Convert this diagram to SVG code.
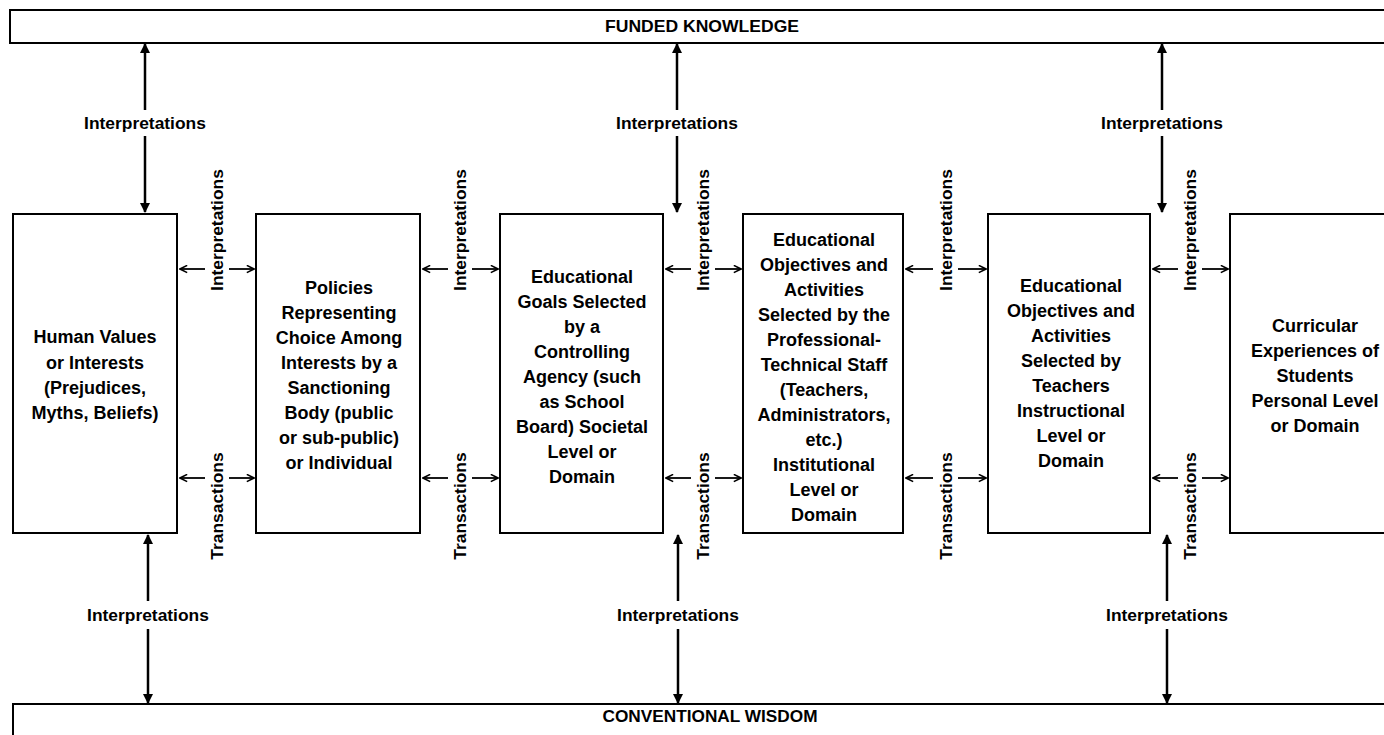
<svg xmlns="http://www.w3.org/2000/svg" width="1384" height="735" viewBox="0 0 1384 735">
<defs>
<marker id="fh" viewBox="0 0 10 10" refX="9" refY="5" markerWidth="10" markerHeight="10" markerUnits="userSpaceOnUse" orient="auto-start-reverse">
<path d="M0,0 L10,5 L0,10 z" fill="#000"/>
</marker>
<marker id="oh" viewBox="0 0 10 10" refX="9" refY="5" markerWidth="9" markerHeight="9" markerUnits="userSpaceOnUse" orient="auto-start-reverse">
<path d="M1,1 L9,5 L1,9" fill="none" stroke="#000" stroke-width="1.8"/>
</marker>
</defs>
<style>
.box{fill:#fff;stroke:#000;stroke-width:2}
.nt{font-family:"Liberation Sans",Arial,sans-serif;font-weight:bold;font-size:18px;text-anchor:middle;fill:#000}
.lb{font-family:"Liberation Sans",Arial,sans-serif;font-weight:bold;font-size:17.4px;text-anchor:middle;fill:#000}
.ti{font-family:"Liberation Sans",Arial,sans-serif;font-weight:bold;font-size:16.5px;text-anchor:middle;fill:#000}
.va{stroke:#000;stroke-width:2.5;fill:none;marker-end:url(#fh)}
.ha{stroke:#000;stroke-width:1.8;fill:none;marker-end:url(#oh)}
</style>
<rect width="1384" height="735" fill="#fff"/>

<g id="funded-knowledge">
<rect class="box" x="10" y="10" width="1400" height="33"/>
<text class="ti" x="702" y="32" textLength="194" lengthAdjust="spacingAndGlyphs">FUNDED KNOWLEDGE</text>
</g>
<g id="conventional-wisdom">
<rect class="box" x="13" y="704" width="1400" height="50"/>
<text class="ti" x="710" y="722" textLength="215" lengthAdjust="spacingAndGlyphs">CONVENTIONAL WISDOM</text>
</g>

<g id="n1">
<rect class="box" x="13" y="214" width="164" height="319"/>
<text class="nt"><tspan x="95" y="343">Human Values</tspan><tspan x="95" y="368.5">or Interests</tspan><tspan x="95" y="394">(Prejudices,</tspan><tspan x="95" y="419">Myths, Beliefs)</tspan></text>
</g>
<g id="n2">
<rect class="box" x="256" y="214" width="164" height="319"/>
<text class="nt"><tspan x="339" y="294">Policies</tspan><tspan x="339" y="319">Representing</tspan><tspan x="339" y="344">Choice Among</tspan><tspan x="339" y="369">Interests by a</tspan><tspan x="339" y="394">Sanctioning</tspan><tspan x="339" y="419">Body (public</tspan><tspan x="339" y="444">or sub-public)</tspan><tspan x="339" y="469">or Individual</tspan></text>
</g>
<g id="n3">
<rect class="box" x="500" y="214" width="163" height="319"/>
<text class="nt"><tspan x="582" y="283">Educational</tspan><tspan x="582" y="308">Goals Selected</tspan><tspan x="582" y="333">by a</tspan><tspan x="582" y="358">Controlling</tspan><tspan x="582" y="383">Agency (such</tspan><tspan x="582" y="408">as School</tspan><tspan x="582" y="433">Board) Societal</tspan><tspan x="582" y="458">Level or</tspan><tspan x="582" y="483">Domain</tspan></text>
</g>
<g id="n4">
<rect class="box" x="743" y="214" width="160" height="319"/>
<text class="nt"><tspan x="824" y="246">Educational</tspan><tspan x="824" y="271">Objectives and</tspan><tspan x="824" y="296">Activities</tspan><tspan x="824" y="321">Selected by the</tspan><tspan x="824" y="346">Professional-</tspan><tspan x="824" y="371">Technical Staff</tspan><tspan x="824" y="396">(Teachers,</tspan><tspan x="824" y="421">Administrators,</tspan><tspan x="824" y="446">etc.)</tspan><tspan x="824" y="471">Institutional</tspan><tspan x="824" y="496">Level or</tspan><tspan x="824" y="521">Domain</tspan></text>
</g>
<g id="n5">
<rect class="box" x="988" y="214" width="162" height="319"/>
<text class="nt"><tspan x="1071" y="292">Educational</tspan><tspan x="1071" y="317">Objectives and</tspan><tspan x="1071" y="342">Activities</tspan><tspan x="1071" y="367">Selected by</tspan><tspan x="1071" y="392">Teachers</tspan><tspan x="1071" y="417">Instructional</tspan><tspan x="1071" y="442">Level or</tspan><tspan x="1071" y="467">Domain</tspan></text>
</g>
<g id="n6">
<rect class="box" x="1230" y="214" width="180" height="319"/>
<text class="nt"><tspan x="1315" y="332">Curricular</tspan><tspan x="1315" y="357">Experiences of</tspan><tspan x="1315" y="382">Students</tspan><tspan x="1315" y="407">Personal Level</tspan><tspan x="1315" y="432">or Domain</tspan></text>
</g>

<g id="connectors">
<line class="va" x1="145" y1="110" x2="145" y2="44"/>
<line class="va" x1="145" y1="136" x2="145" y2="212"/>
<text class="lb" x="145" y="129">Interpretations</text>
<line class="va" x1="677" y1="110" x2="677" y2="44"/>
<line class="va" x1="677" y1="136" x2="677" y2="212"/>
<text class="lb" x="677" y="129">Interpretations</text>
<line class="va" x1="1162" y1="110" x2="1162" y2="44"/>
<line class="va" x1="1162" y1="136" x2="1162" y2="212"/>
<text class="lb" x="1162" y="129">Interpretations</text>
<line class="va" x1="148" y1="601" x2="148" y2="535"/>
<line class="va" x1="148" y1="629" x2="148" y2="703"/>
<text class="lb" x="148" y="621">Interpretations</text>
<line class="va" x1="678" y1="601" x2="678" y2="535"/>
<line class="va" x1="678" y1="629" x2="678" y2="703"/>
<text class="lb" x="678" y="621">Interpretations</text>
<line class="va" x1="1167" y1="601" x2="1167" y2="535"/>
<line class="va" x1="1167" y1="629" x2="1167" y2="703"/>
<text class="lb" x="1167" y="621">Interpretations</text>

<line class="ha" x1="205" y1="269" x2="180" y2="269"/>
<line class="ha" x1="229" y1="269" x2="254" y2="269"/>
<line class="ha" x1="205" y1="478" x2="180" y2="478"/>
<line class="ha" x1="229" y1="478" x2="254" y2="478"/>
<text class="lb" x="223" y="230" transform="rotate(-90 223 230)">Interpretations</text>
<text class="lb" x="223" y="506" transform="rotate(-90 223 506)">Transactions</text>

<line class="ha" x1="448" y1="269" x2="423" y2="269"/>
<line class="ha" x1="472" y1="269" x2="498" y2="269"/>
<line class="ha" x1="448" y1="478" x2="423" y2="478"/>
<line class="ha" x1="472" y1="478" x2="498" y2="478"/>
<text class="lb" x="466" y="230" transform="rotate(-90 466 230)">Interpretations</text>
<text class="lb" x="466" y="506" transform="rotate(-90 466 506)">Transactions</text>

<line class="ha" x1="691" y1="269" x2="666" y2="269"/>
<line class="ha" x1="715" y1="269" x2="741" y2="269"/>
<line class="ha" x1="691" y1="478" x2="666" y2="478"/>
<line class="ha" x1="715" y1="478" x2="741" y2="478"/>
<text class="lb" x="709" y="230" transform="rotate(-90 709 230)">Interpretations</text>
<text class="lb" x="709" y="506" transform="rotate(-90 709 506)">Transactions</text>

<line class="ha" x1="933" y1="269" x2="906" y2="269"/>
<line class="ha" x1="958" y1="269" x2="986" y2="269"/>
<line class="ha" x1="933" y1="478" x2="906" y2="478"/>
<line class="ha" x1="958" y1="478" x2="986" y2="478"/>
<text class="lb" x="952" y="230" transform="rotate(-90 952 230)">Interpretations</text>
<text class="lb" x="952" y="506" transform="rotate(-90 952 506)">Transactions</text>

<line class="ha" x1="1178" y1="269" x2="1153" y2="269"/>
<line class="ha" x1="1202" y1="269" x2="1228" y2="269"/>
<line class="ha" x1="1178" y1="478" x2="1153" y2="478"/>
<line class="ha" x1="1202" y1="478" x2="1228" y2="478"/>
<text class="lb" x="1196" y="230" transform="rotate(-90 1196 230)">Interpretations</text>
<text class="lb" x="1196" y="506" transform="rotate(-90 1196 506)">Transactions</text>
</g>
</svg>
